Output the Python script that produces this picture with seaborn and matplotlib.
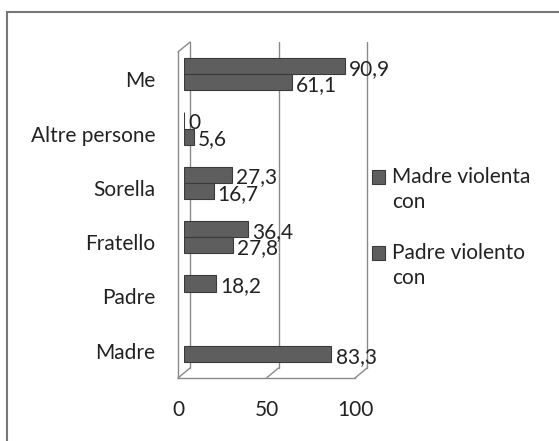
import numpy as np
import pandas as pd
import matplotlib
matplotlib.use("Agg")
import matplotlib.pyplot as plt
from matplotlib.patches import ConnectionPatch, Rectangle
from matplotlib.legend_handler import HandlerPatch
import seaborn as sns

# data (percentages, top to bottom as in the chart)
categories = ["Me", "Altre persone", "Sorella", "Fratello", "Padre", "Madre"]
series = ["Madre violenta con", "Padre violento con"]
madre_violenta = [90.9, 0.0, 27.3, 36.4, 18.2, np.nan]
padre_violento = [61.1, 5.6, 16.7, 27.8, np.nan, 83.3]
x_ticks = [0, 50, 100]

df = pd.DataFrame({
    "categoria": categories * 2,
    "serie": [series[0]] * len(categories) + [series[1]] * len(categories),
    "valore": madre_violenta + padre_violento,
}).dropna()

sns.set_style("white")
plt.rcParams["font.family"] = ["Lato", "DejaVu Sans"]
plt.rcParams["font.size"] = 15
plt.rcParams["text.color"] = "#222222"
plt.rcParams["xtick.color"] = "#222222"
plt.rcParams["ytick.color"] = "#222222"

W, H = 559, 441
GRID = "#8a8a8a"
BAR = "#5e5e5e"
fig = plt.figure(figsize=(W / 100, H / 100), dpi=100)


def px_rect(left, top, right, bottom):
    return [left / W, 1 - bottom / H, (right - left) / W, (bottom - top) / H]


# fake 3D: back wall, bar plane, front axis plane
front = (178, 52, 355, 378)
dx, dy = 12, 10
ax_back = fig.add_axes(px_rect(front[0] + dx, front[1] - dy, front[2] + dx, front[3] - dy))
ax = fig.add_axes(px_rect(front[0] + dx / 2, front[1] - dy / 2, front[2] + dx / 2, front[3] - dy / 2))
ax_front = fig.add_axes(px_rect(*front))

sns.barplot(
    data=df, y="categoria", x="valore", hue="serie",
    order=categories, hue_order=series, palette=[BAR, BAR],
    width=0.6, saturation=1, edgecolor="#3a3a3a", linewidth=0.8, ax=ax,
)

for cont in ax.containers:
    labels = ["0" if v == 0 else f"{v:.1f}".replace(".", ",") for v in cont.datavalues]
    texts = ax.bar_label(cont, labels=labels, padding=3, fontsize=15, color="#222222")
    for t in texts:
        t.xyann = (3, -2)

for a in (ax_back, ax, ax_front):
    a.set_xlim(0, 100)
    a.set_ylim(len(categories) - 0.5, -0.5)
    a.set_facecolor("none")

# legend, rebuilt with the square on the first text line
leg = ax.get_legend()
handles = leg.legend_handles
leg.remove()
ax.set_axis_off()


def square_on_first_line(legend, orig_handle, xdescent, ydescent, width, height, fontsize):
    return Rectangle((-xdescent, -ydescent + 0.62 * fontsize), width, height)


leg = fig.legend(
    handles, [s.replace(" con", "\ncon") for s in series],
    loc="upper left", bbox_to_anchor=(372 / W, 1 - 167 / H),
    frameon=False, fontsize=15, handlelength=0.62, handleheight=0.62,
    handletextpad=0.35, labelspacing=1.5, borderpad=0, borderaxespad=0,
    handler_map={type(handles[0]): HandlerPatch(patch_func=square_on_first_line)},
)
for t in leg.get_texts():
    t.set_linespacing(1.3)

# back wall gridlines
for v in x_ticks:
    ax_back.axvline(v, color=GRID, lw=1, clip_on=False)
ax_back.set_xticks([])
ax_back.set_yticks([])
for s in ax_back.spines.values():
    s.set_visible(False)

# front axis plane
for side in ("top", "right"):
    ax_front.spines[side].set_visible(False)
for side in ("left", "bottom"):
    ax_front.spines[side].set_color(GRID)
    ax_front.spines[side].set_linewidth(1)
ax_front.set_xticks(x_ticks)
ax_front.set_xticklabels([str(v) for v in x_ticks])
ax_front.set_yticks(range(len(categories)))
ax_front.set_yticklabels(categories)
ax_front.set_yticks(np.arange(-0.5, len(categories)), minor=True)
ax_front.tick_params(axis="x", length=5, width=1, color=GRID, pad=11, labelsize=15)
ax_front.tick_params(axis="y", which="major", length=0, pad=16.5, labelsize=15)
ax_front.tick_params(axis="y", which="minor", length=5, width=1, color=GRID)

# depth edges joining front plane and back wall
for v in x_ticks:
    fig.add_artist(ConnectionPatch(
        xyA=(v, 0), coordsA=ax_front.get_xaxis_transform(),
        xyB=(v, 0), coordsB=ax_back.get_xaxis_transform(), color=GRID, lw=1))
fig.add_artist(ConnectionPatch(
    xyA=(0, 1), coordsA=ax_front.get_xaxis_transform(),
    xyB=(0, 1), coordsB=ax_back.get_xaxis_transform(), color=GRID, lw=1))

# chart border (only top and left edges fall inside the picture)
fig.add_artist(Rectangle((7 / W, -0.5), 2, 1.5 - 12 / H, transform=fig.transFigure,
                         fill=False, edgecolor="#777777", lw=1.5))

fig.savefig("out.png", dpi=100)
